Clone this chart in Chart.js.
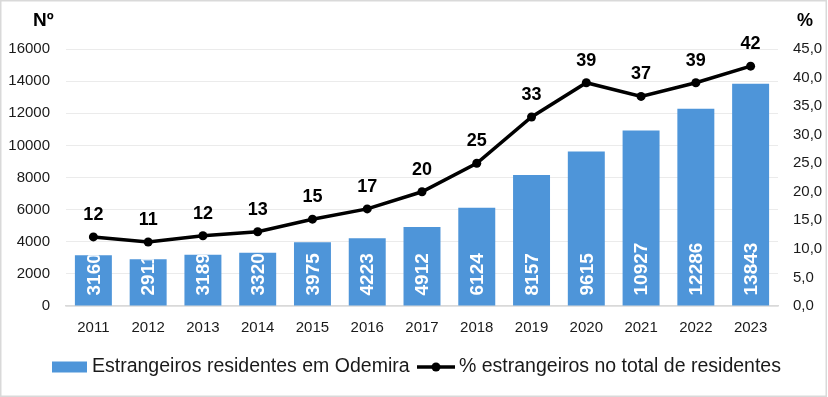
<!DOCTYPE html>
<html>
<head>
<meta charset="utf-8">
<script src="https://cdn.jsdelivr.net/npm/chart.js@4.4.1/dist/chart.umd.min.js"></script>
<style>
html,body{margin:0;padding:0;background:#fff;}
#wrap{width:828px;height:397px;position:relative;}
</style>
</head>
<body>
<div id="wrap"><canvas id="c" width="828" height="397"></canvas></div>
<script>
const years = ['2011','2012','2013','2014','2015','2016','2017','2018','2019','2020','2021','2022','2023'];
const residents = [3160,2911,3189,3320,3975,4223,4912,6124,8157,9615,10927,12286,13843];
const percent = [12.1,11.2,12.3,13.0,15.2,17.0,20.0,25.0,33.1,39.1,36.7,39.1,42.0];
const percentLabels = ['12','11','12','13','15','17','20','25','33','39','37','39','42'];
const barLegend = 'Estrangeiros residentes em Odemira';
const lineLegend = '% estrangeiros no total de residentes';
const leftTitle = 'Nº';
const rightTitle = '%';

const FONT = '"Liberation Sans", Arial, sans-serif';
const BLUE = '#4e95d9';

const decor = {
  id: 'decor',
  beforeDraw(chart) {
    const ctx = chart.ctx;
    ctx.save();
    ctx.fillStyle = '#fff';
    ctx.fillRect(0, 0, chart.width, chart.height);
    ctx.restore();
  },
  afterDatasetsDraw(chart) {
    const ctx = chart.ctx;
    const bm = chart.getDatasetMeta(0);
    ctx.save();
    ctx.font = 'bold 19px ' + FONT;
    ctx.fillStyle = '#fff';
    bm.data.forEach((el, i) => {
      const p = el.getProps(['x','y','base','width'], true);
      ctx.save();
      ctx.beginPath();
      ctx.rect(p.x - p.width/2, p.y, p.width, p.base - p.y);
      ctx.clip();
      ctx.translate(p.x + 1, p.base - 10);
      ctx.rotate(-Math.PI/2);
      ctx.textAlign = 'left';
      ctx.textBaseline = 'middle';
      ctx.fillText(String(residents[i]), 0, 0);
      ctx.restore();
    });
    ctx.restore();
    const lm = chart.getDatasetMeta(1);
    ctx.save();
    ctx.font = 'bold 18px ' + FONT;
    ctx.fillStyle = '#000';
    ctx.textAlign = 'center';
    ctx.textBaseline = 'alphabetic';
    lm.data.forEach((el, i) => {
      ctx.fillText(percentLabels[i], el.x, el.y - 17);
    });
    ctx.restore();
  },
  afterDraw(chart) {
    const ctx = chart.ctx;
    ctx.save();
    ctx.font = 'bold 19px ' + FONT;
    ctx.fillStyle = '#000';
    ctx.textBaseline = 'middle';
    ctx.textAlign = 'left';
    ctx.fillText(leftTitle, 33, 21);
    ctx.font = 'bold 18px ' + FONT;
    ctx.fillText(rightTitle, 797, 21);
    const ly = 367;
    ctx.fillStyle = BLUE;
    ctx.fillRect(52, ly - 5.5, 35, 11);
    ctx.font = '19.5px ' + FONT;
    ctx.fillStyle = '#1a1a1a';
    ctx.fillText(barLegend, 92, ly);
    ctx.strokeStyle = '#000';
    ctx.lineWidth = 3.5;
    ctx.beginPath();
    ctx.moveTo(417, ly);
    ctx.lineTo(455, ly);
    ctx.stroke();
    ctx.fillStyle = '#000';
    ctx.beginPath();
    ctx.arc(436, ly, 4.5, 0, Math.PI*2);
    ctx.fill();
    ctx.fillStyle = '#1a1a1a';
    ctx.fillText(lineLegend, 459, ly);
    ctx.strokeStyle = '#d9d9d9';
    ctx.lineWidth = 1.5;
    ctx.strokeRect(0.75, 0.75, chart.width - 2.5, chart.height - 1.5);
    ctx.restore();
  }
};

new Chart(document.getElementById('c'), {
  data: {
    labels: years,
    datasets: [
      {
        type: 'bar',
        label: barLegend,
        data: residents,
        backgroundColor: BLUE,
        yAxisID: 'y',
        barPercentage: 0.675,
        categoryPercentage: 1.0,
        order: 2
      },
      {
        type: 'line',
        label: lineLegend,
        data: percent,
        borderColor: '#000',
        backgroundColor: '#000',
        borderWidth: 3.5,
        pointRadius: 4.5,
        pointHoverRadius: 4.5,
        pointBackgroundColor: '#000',
        pointBorderWidth: 0,
        tension: 0,
        yAxisID: 'y1',
        order: 1
      }
    ]
  },
  options: {
    responsive: false,
    animation: false,
    events: [],
    layout: { padding: { top: 49, left: 0, right: 0, bottom: 0 } },
    plugins: { legend: { display: false }, tooltip: { enabled: false } },
    scales: {
      x: {
        grid: { display: false, drawTicks: false },
        border: { display: true, color: '#d9d9d9', width: 1.5 },
        ticks: { color: '#1a1a1a', font: { family: FONT, size: 15 }, padding: 13, maxRotation: 0 },
        afterFit(s) { s.height = 91; }
      },
      y: {
        position: 'left',
        min: 0, max: 16000,
        ticks: { stepSize: 2000, color: '#1a1a1a', font: { family: FONT, size: 15 }, padding: 16,
          callback: v => String(v) },
        grid: { color: '#ebebeb', lineWidth: 1, drawTicks: false },
        border: { display: false },
        afterFit(s) { s.width = 66; }
      },
      y1: {
        position: 'right',
        min: 0, max: 45,
        ticks: {
          stepSize: 5, color: '#1a1a1a', font: { family: FONT, size: 15 }, padding: 15,
          callback: v => v.toFixed(1).replace('.', ',')
        },
        grid: { display: false, drawTicks: false },
        border: { display: false },
        afterFit(s) { s.width = 50; }
      }
    }
  },
  plugins: [decor]
});
</script>
</body>
</html>
